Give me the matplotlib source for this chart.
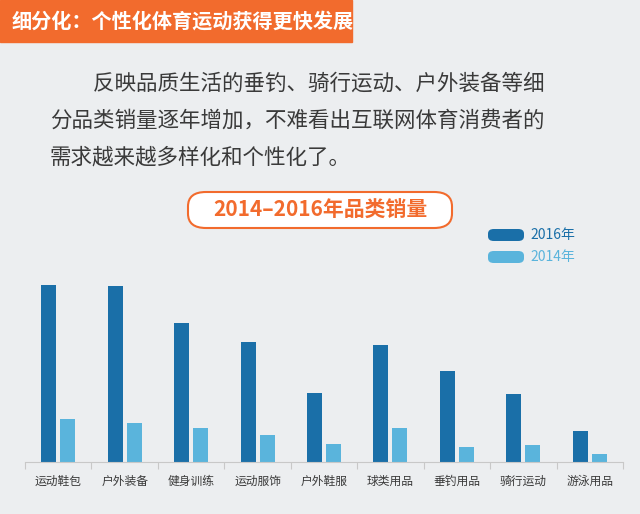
import matplotlib
matplotlib.use("Agg")
import matplotlib.pyplot as plt
from matplotlib.patches import FancyBboxPatch, Rectangle
import numpy as np

plt.rcParams['font.family'] = ['Noto Sans CJK SC', 'DejaVu Sans']

categories = ["运动鞋包", "户外装备", "健身训练", "运动服饰", "户外鞋服", "球类用品", "垂钓用品", "骑行运动", "游泳用品"]
sales_2016 = [177, 176, 139, 120, 69, 117, 91, 68, 31]
sales_2014 = [43, 39, 34, 27, 18, 34, 15, 17, 8]
series_labels = ["2016年", "2014年"]

BG = "#eceef0"
C16 = "#1a6fa8"
C14 = "#5ab4dc"
ORANGE = "#f26b2d"
TXT = "#3a3a3a"

W, H = 640, 514
fig = plt.figure(figsize=(W/100, H/100), dpi=100, facecolor=BG)

def fx(x): return x / W
def fy(y): return 1 - y / H

# banner
fig.patches.append(Rectangle((0, fy(42)), fx(352), 42/H, transform=fig.transFigure, color=ORANGE))
fig.text(fx(12), fy(21), "细分化：个性化体育运动获得更快发展", color="white", fontsize=14.5,
         fontweight="bold", va="center", ha="left")

# paragraph
lines = ["　　反映品质生活的垂钓、骑行运动、户外装备等细",
         "分品类销量逐年增加，不难看出互联网体育消费者的",
         "需求越来越多样化和个性化了。"]
for i, ln in enumerate(lines):
    fig.text(fx(50), fy(84 + i * 37), ln, color=TXT, fontsize=15.5, va="center", ha="left")

# title box
fig.patches.append(FancyBboxPatch((fx(188), fy(228)), fx(264), 36/H, transform=fig.transFigure,
                                  boxstyle="round,pad=0,rounding_size=0.028", fc="white", ec=ORANGE, lw=1.5))
fig.text(fx(320), fy(210), "2014–2016年品类销量", color=ORANGE, fontsize=15, fontweight="bold",
         va="center", ha="center")

# legend
for yy, c, lab in [(235, C16, series_labels[0]), (257, C14, series_labels[1])]:
    fig.patches.append(FancyBboxPatch((fx(488), fy(yy + 6)), fx(36), 12/H, transform=fig.transFigure,
                                      boxstyle="round,pad=0,rounding_size=0.009", fc=c, ec="none"))
    fig.text(fx(530), fy(yy), lab, color=C16 if c == C16 else C14, fontsize=10, va="center", ha="left")

# chart
ax = fig.add_axes([fx(25), fy(462), fx(598), (462 - 268) / H])
ax.set_facecolor(BG)
x = np.arange(len(categories))
ax.bar(x - 0.143, sales_2016, width=0.225, color=C16)
ax.bar(x + 0.143, sales_2014, width=0.225, color=C14)
ax.set_xlim(-0.5, len(categories) - 0.5)
ax.set_ylim(0, 194)
for s in ["top", "right", "left"]:
    ax.spines[s].set_visible(False)
ax.spines["bottom"].set_color("#c8c8c8")
ax.set_yticks([])
ax.set_xticks(np.arange(-0.5, len(categories)), minor=False)
ax.set_xticklabels([])
ax.tick_params(axis="x", length=5, color="#c8c8c8")
ax.set_xticks(x, minor=True)
ax.set_xticklabels(categories, minor=True, fontsize=8.5, color=TXT)
ax.tick_params(axis="x", which="minor", length=0, pad=9)

fig.savefig("out.png", dpi=100, facecolor=BG)
